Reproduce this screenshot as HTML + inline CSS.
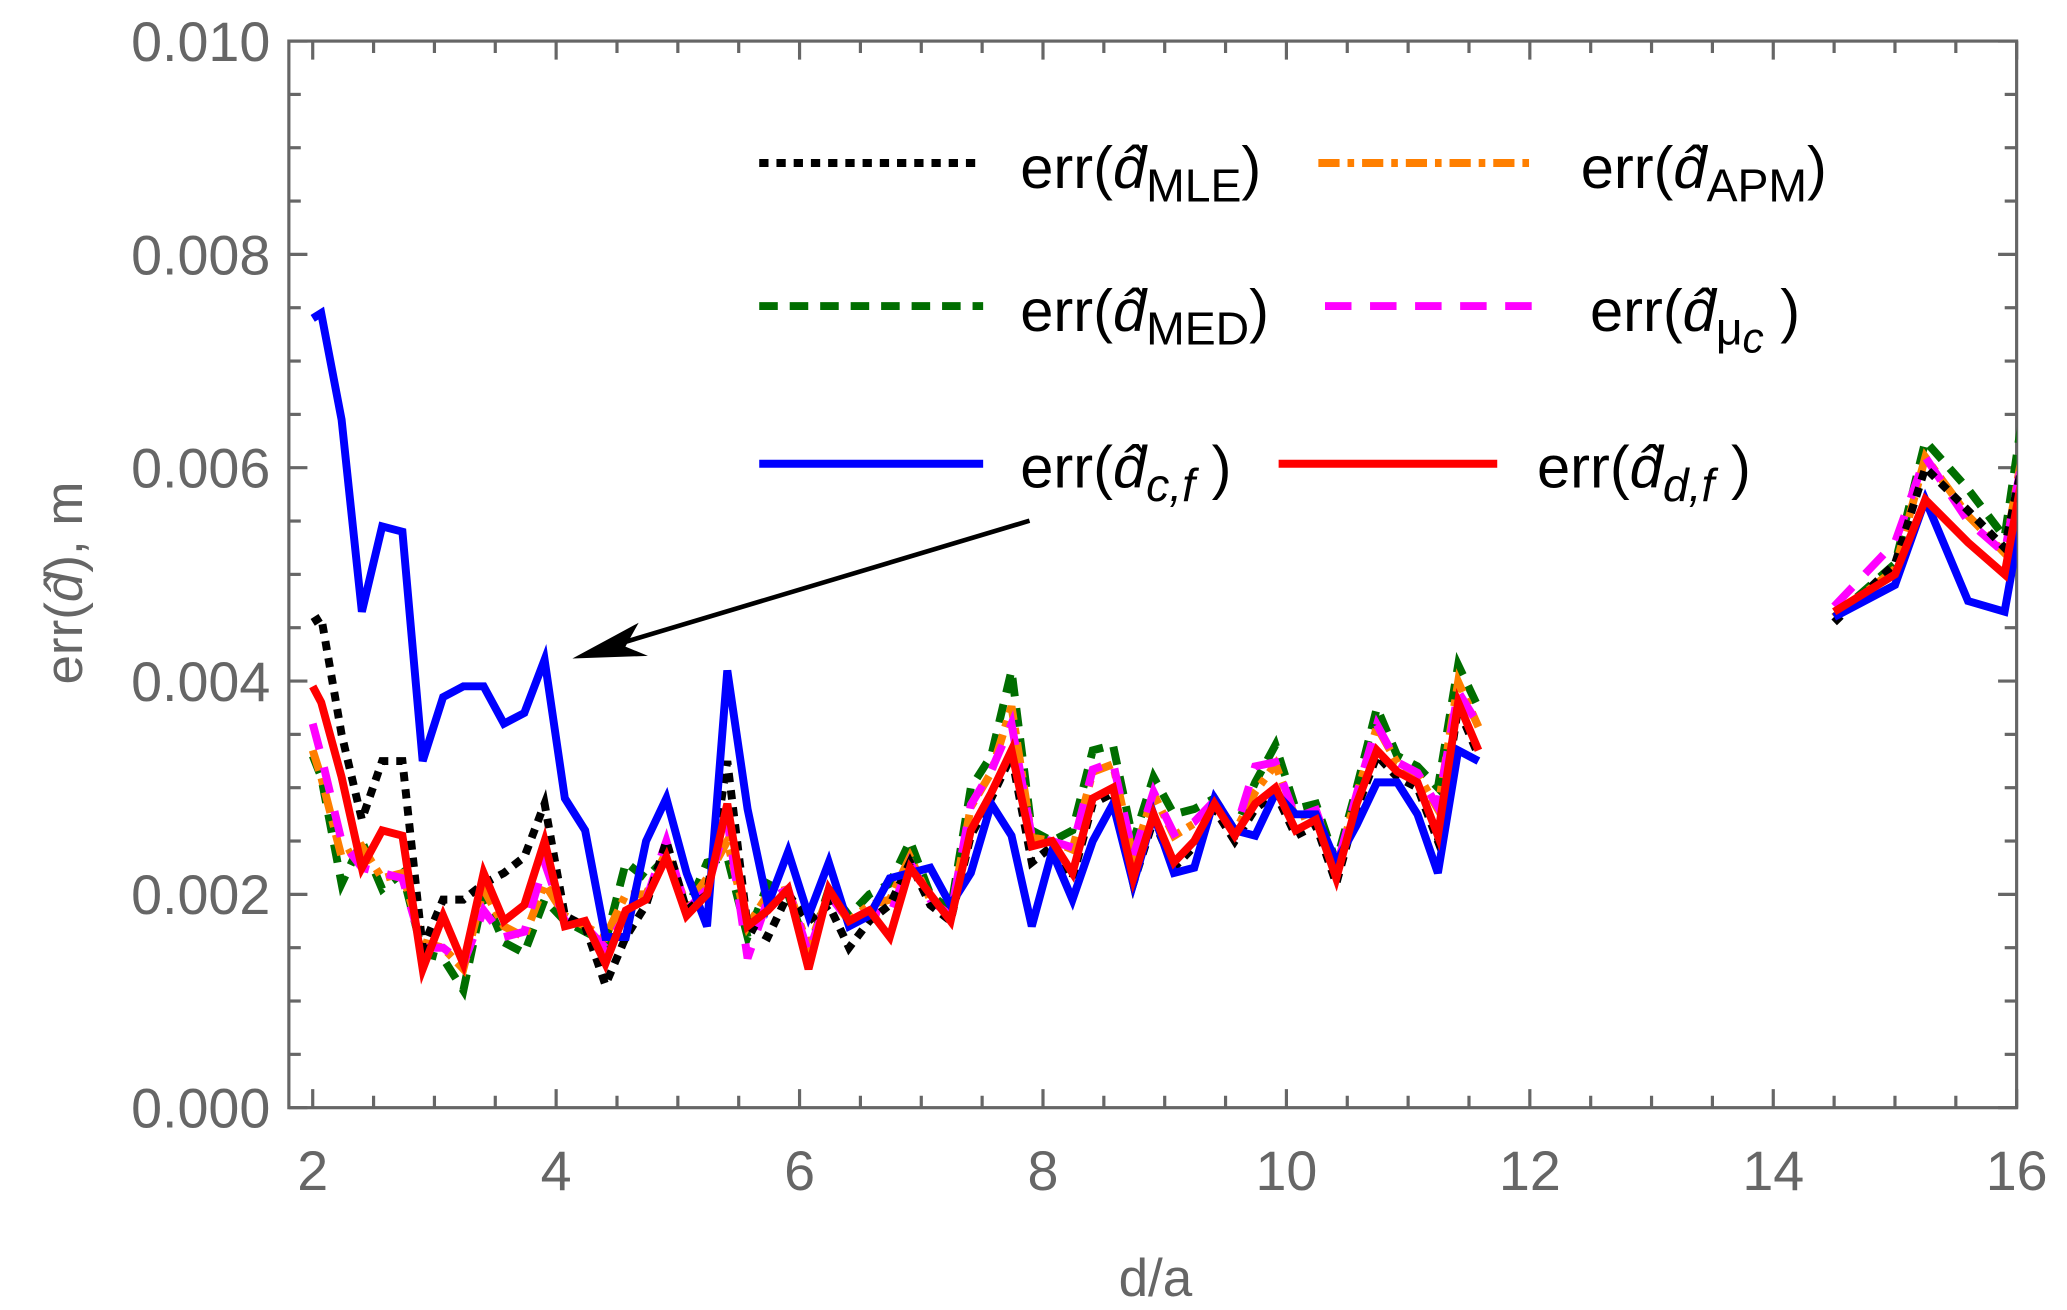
<!DOCTYPE html>
<html><head><meta charset="utf-8"><style>
html,body{margin:0;padding:0;background:#fff}
svg{display:block}
text{font-family:"Liberation Sans",sans-serif}
</style></head><body>
<svg id="s" width="2067" height="1310" viewBox="0 0 1560 988.7" xmlns="http://www.w3.org/2000/svg">
<defs><clipPath id="c"><rect x="218" y="31" width="1304" height="805"/></clipPath></defs>
<g id="ax" stroke="#666" stroke-width="2.4" fill="none"></g>
<g id="tl" fill="#666" font-size="42"></g>
<g id="ser" clip-path="url(#c)" fill="none" stroke-width="6" stroke-linejoin="miter"></g>
<text x="62" y="440" fill="#666" font-size="40" text-anchor="middle" transform="rotate(-90 62 440)">err(<tspan font-style="italic">d̂</tspan>), m</text>
<text x="872" y="978" fill="#666" font-size="40" text-anchor="middle">d/a</text>
<g id="leg" fill="none" stroke-width="6"></g>
<g font-size="45" fill="#000">
<text x="770" y="142">err(<tspan font-style="italic">d̂</tspan><tspan dy="10" font-size="35">MLE</tspan><tspan dy="-10">)</tspan></text>
<text x="1193" y="142">err(<tspan font-style="italic">d̂</tspan><tspan dy="10" font-size="35">APM</tspan><tspan dy="-10">)</tspan></text>
<text x="770" y="250">err(<tspan font-style="italic">d̂</tspan><tspan dy="10" font-size="35">MED</tspan><tspan dy="-10">)</tspan></text>
<text x="1200" y="250">err(<tspan font-style="italic">d̂</tspan><tspan dy="10" font-size="35">μ</tspan><tspan font-style="italic" dy="6" font-size="32">c</tspan><tspan dy="-16"> )</tspan></text>
<text x="770" y="368">err(<tspan font-style="italic">d̂</tspan><tspan dy="10" font-size="35" font-style="italic">c,f</tspan><tspan dy="-10"> )</tspan></text>
<text x="1160" y="368">err(<tspan font-style="italic">d̂</tspan><tspan dy="10" font-size="35" font-style="italic">d,f</tspan><tspan dy="-10"> )</tspan></text>
</g>
<line x1="777" y1="393" x2="470" y2="485" stroke="#000" stroke-width="3.5"/>
<polygon points="432,497 482,470 472,488 489,495" fill="#000"/>
</svg>
<script>
var NS="http://www.w3.org/2000/svg";
function el(p,t,a){var e=document.createElementNS(NS,t);for(var k in a)e.setAttribute(k,a[k]);p.appendChild(e);return e;}
var X=function(x){return 236+(x-2)*91.86;}, Y=function(v){return 836-v*80.5;};
var ax=document.getElementById('ax'), tl=document.getElementById('tl');
el(ax,'rect',{x:218,y:31,width:1304,height:805});
for(var x=2;x<=16.001;x+=0.5){var maj=Math.abs(x-Math.round(x/2)*2)<1e-6;var L=maj?14:9;
 el(ax,'line',{x1:X(x),y1:836,x2:X(x),y2:836-L});el(ax,'line',{x1:X(x),y1:31,x2:X(x),y2:31+L});
 if(maj){var t=el(tl,'text',{x:X(x),y:898,'text-anchor':'middle'});t.textContent=Math.round(x);}}
for(var v=0;v<=10.001;v+=0.5){var maj=Math.abs(v/2-Math.round(v/2))<1e-6;var L=maj?14:9;
 el(ax,'line',{x1:218,y1:Y(v),x2:218+L,y2:Y(v)});el(ax,'line',{x1:1522,y1:Y(v),x2:1522-L,y2:Y(v)});
 if(maj){var t=el(tl,'text',{x:204,y:Y(v)+15,'text-anchor':'end'});t.textContent=(v/1000).toFixed(3);}}
var xs=[2];for(var k=0;k<58;k++)xs.push(2.07+0.1668*k);
var xr=[14.5,15.0,15.25,15.6,15.9,16.05];
var red=[3.95,3.8,3.1,2.25,2.6,2.55,1.3,1.8,1.35,2.2,1.75,1.9,2.5,1.7,1.75,1.35,1.85,1.95,2.35,1.8,2.0,2.85,1.7,1.85,2.05,1.3,2.05,1.75,1.85,1.6,2.25,2.0,1.75,2.6,2.95,3.35,2.45,2.5,2.2,2.9,3.0,2.15,2.75,2.3,2.5,2.85,2.55,2.85,3.0,2.6,2.7,2.15,2.85,3.35,3.15,3.05,2.55,3.8,3.35];
var blue=[7.4,7.45,6.45,4.65,5.45,5.4,3.25,3.85,3.95,3.95,3.6,3.7,4.2,2.9,2.6,1.6,1.6,2.5,2.9,2.2,1.7,4.1,2.8,1.9,2.4,1.8,2.3,1.7,1.8,2.15,2.2,2.25,1.9,2.2,2.85,2.55,1.7,2.4,1.95,2.5,2.85,2.1,2.75,2.2,2.25,2.9,2.6,2.55,2.95,2.75,2.75,2.3,2.65,3.05,3.05,2.75,2.2,3.35,3.25];
var black=[4.55,4.6,3.5,2.7,3.25,3.25,1.5,1.95,1.95,2.1,2.2,2.35,2.85,1.8,1.7,1.15,1.6,1.9,2.5,1.85,2.0,3.25,1.7,1.6,2.0,1.75,1.9,1.5,1.75,1.9,2.3,1.9,1.75];
var green=[3.3,3.1,2.1,2.5,2.05,2.2,1.45,1.4,1.1,2.0,1.55,1.45,1.95,1.75,1.65,1.55,2.3,2.15,2.35,1.85,2.3,2.35,1.6,2.1,2.0,1.45,2.05,1.8,2.0,2.1,2.5,2.0,1.85,3.0,3.3,4.1,2.6,2.5,2.6,3.35,3.4,2.5,3.1,2.75,2.8,2.9,2.6,3.05,3.4,2.8,2.85,2.3,3.0,3.75,3.3,3.2,3.0,4.15,3.75];
var orange=[3.35,3.1,2.35,2.45,2.15,2.2,1.55,1.5,1.3,2.05,1.7,1.6,2.1,1.8,1.7,1.6,2.0,2.0,2.4,1.9,2.15,2.5,1.7,2.0,2.05,1.5,2.0,1.75,1.9,1.95,2.35,1.95,1.8];
var mag=[3.6,3.3,2.5,2.25,2.2,2.15,1.5,1.5,1.35,1.85,1.6,1.65,2.3,1.75,1.7,1.5,1.8,1.95,2.5,1.85,2.05,2.7,1.4,1.95,2.05,1.45,2.0,1.75,1.85,1.8,2.3,1.95,1.8];
for(var i=33;i<59;i++){black.push(red[i]-0.05);orange.push(red[i]+0.55*(green[i]-red[i]));mag.push(red[i]+0.6*(green[i]-red[i]));}
black[36]=2.3;mag[35]=3.6;mag[47]=3.2;mag[57]=3.9;
var R={red:[4.65,5.0,5.7,5.3,5.0,5.95],blue:[4.6,4.9,5.7,4.75,4.65,5.6],green:[4.6,5.1,6.25,5.8,5.35,6.5],orange:[4.6,5.05,6.1,5.55,5.2,6.15],mag:[4.7,5.3,6.1,5.5,5.2,6.1],black:[4.55,5.1,6.0,5.6,5.25,6.05]};
var S=[['green',green,'#006e00','14 9'],['orange',orange,'#ff7f00','16 6 5 6'],['mag',mag,'#ff00ff','20 14'],['black',black,'#000','7 6'],['blue',blue,'#0000ff',''],['red',red,'#ff0000','']];
var ser=document.getElementById('ser'),leg=document.getElementById('leg');
S.forEach(function(s){
 function path(xa,ya){var d='';for(var i=0;i<ya.length;i++)d+=(i?'L':'M')+X(xa[i]).toFixed(1)+','+Y(ya[i]).toFixed(1);
  var a={d:d,stroke:s[2]};if(s[3])a['stroke-dasharray']=s[3];el(ser,'path',a);}
 path(xs,s[1]);path(xr,R[s[0]]);
});
var LG=[[573,740,123,'#000','7 6'],[995,1155,123,'#ff7f00','16 6 5 6'],[573,742,231,'#006e00','14 9'],[1000,1160,231,'#ff00ff','20 14'],[573,742,350,'#0000ff',''],[965,1130,350,'#ff0000','']];
LG.forEach(function(l){var a={x1:l[0],x2:l[1],y1:l[2],y2:l[2],stroke:l[3]};if(l[4])a['stroke-dasharray']=l[4];el(leg,'line',a);});
</script>
</body></html>
